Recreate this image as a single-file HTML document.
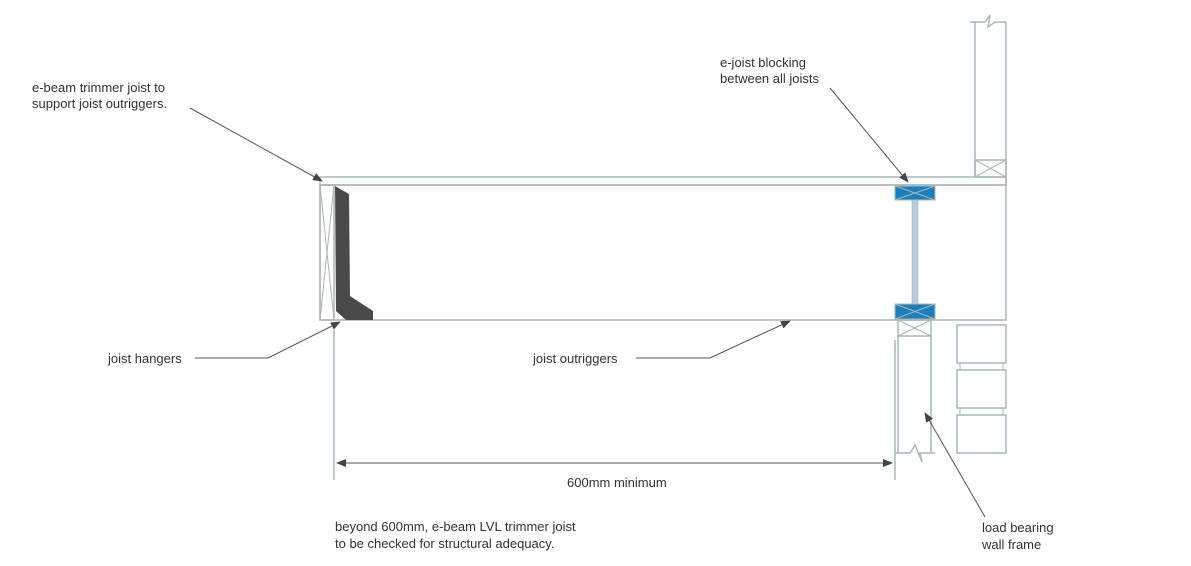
<!DOCTYPE html>
<html><head><style>
body{margin:0;background:#fff;}
svg text{font-family:"Liberation Sans",sans-serif;font-size:13px;fill:#333;}
</style></head><body>
<svg width="1191" height="561" viewBox="0 0 1191 561" xmlns="http://www.w3.org/2000/svg">
<defs><marker id="a" markerWidth="10" markerHeight="8" refX="9" refY="4" orient="auto" markerUnits="userSpaceOnUse"><path d="M0,0L10,4L0,8z" fill="#444"/></marker></defs>
<g fill="none" stroke="#a9b8b3" stroke-width="1.5">
<rect x="320" y="177" width="686" height="8"/>
<rect x="320" y="185" width="686" height="135"/>
<rect x="320" y="185" width="14" height="135"/>
<path d="M320,185L334,320M334,185L320,320" stroke-width="1"/>
<path d="M975,177V22M1006,185V22M970,22H985L990,15L988,27L995,22H1006"/>
<rect x="975" y="160" width="31" height="17"/>
<path d="M975,160L1006,177M1006,160L975,177" stroke-width="1"/>
<rect x="898" y="320" width="33" height="16"/>
<path d="M898,320L931,336M931,320L898,336" stroke-width="1"/>
<path d="M898,336V453M931,336V453M895,453H910L915,445L922,462L920,453H935"/>
<path d="M895,340V480M334,330V480"/>
<rect x="957" y="325" width="49" height="38"/>
<rect x="957" y="370" width="49" height="38"/>
<rect x="957" y="415" width="49" height="38"/>
<path d="M960,363V370M1003,363V370M960,408V415M1003,408V415" stroke-width="1"/>
</g>
<path d="M335,186L349,194L350,296L373,311L373,320L346,320L336,311Z" fill="#4a4a4a"/>
<rect x="912" y="200" width="6" height="104" fill="#b8cce0" stroke="#9aa" stroke-width="0.5"/>
<g stroke="#a9b8b3" stroke-width="1">
<rect x="895" y="186" width="40" height="14" fill="#1a7fbf"/>
<path d="M895,186L935,200M935,186L895,200"/>
<rect x="895" y="304" width="40" height="15" fill="#1a7fbf"/>
<path d="M895,304L935,319M935,304L895,319"/>
</g>
<g stroke="#555" stroke-width="1" fill="none">
<path d="M190,108L322,181" marker-end="url(#a)"/>
<path d="M830,88L908,182" marker-end="url(#a)"/>
<path d="M195,358H268L340,322" marker-end="url(#a)"/>
<path d="M636,358H710L790,321" marker-end="url(#a)"/>
<path d="M985,517L925,413" marker-end="url(#a)"/>
<path d="M343,463H886"/>
<path d="M336,463L346,459V467Z M893,463L883,459V467Z" fill="#444" stroke="none"/>
</g>
<text x="32" y="92">e-beam trimmer joist to</text>
<text x="32" y="108">support joist outriggers.</text>
<text x="720" y="67">e-joist blocking</text>
<text x="720" y="83">between all joists</text>
<text x="108" y="363">joist hangers</text>
<text x="533" y="363">joist outriggers</text>
<text x="567" y="487">600mm minimum</text>
<text x="335" y="531">beyond 600mm, e-beam LVL trimmer joist</text>
<text x="335" y="548">to be checked for structural adequacy.</text>
<text x="982" y="532">load bearing</text>
<text x="982" y="549">wall frame</text>
</svg>
</body></html>
